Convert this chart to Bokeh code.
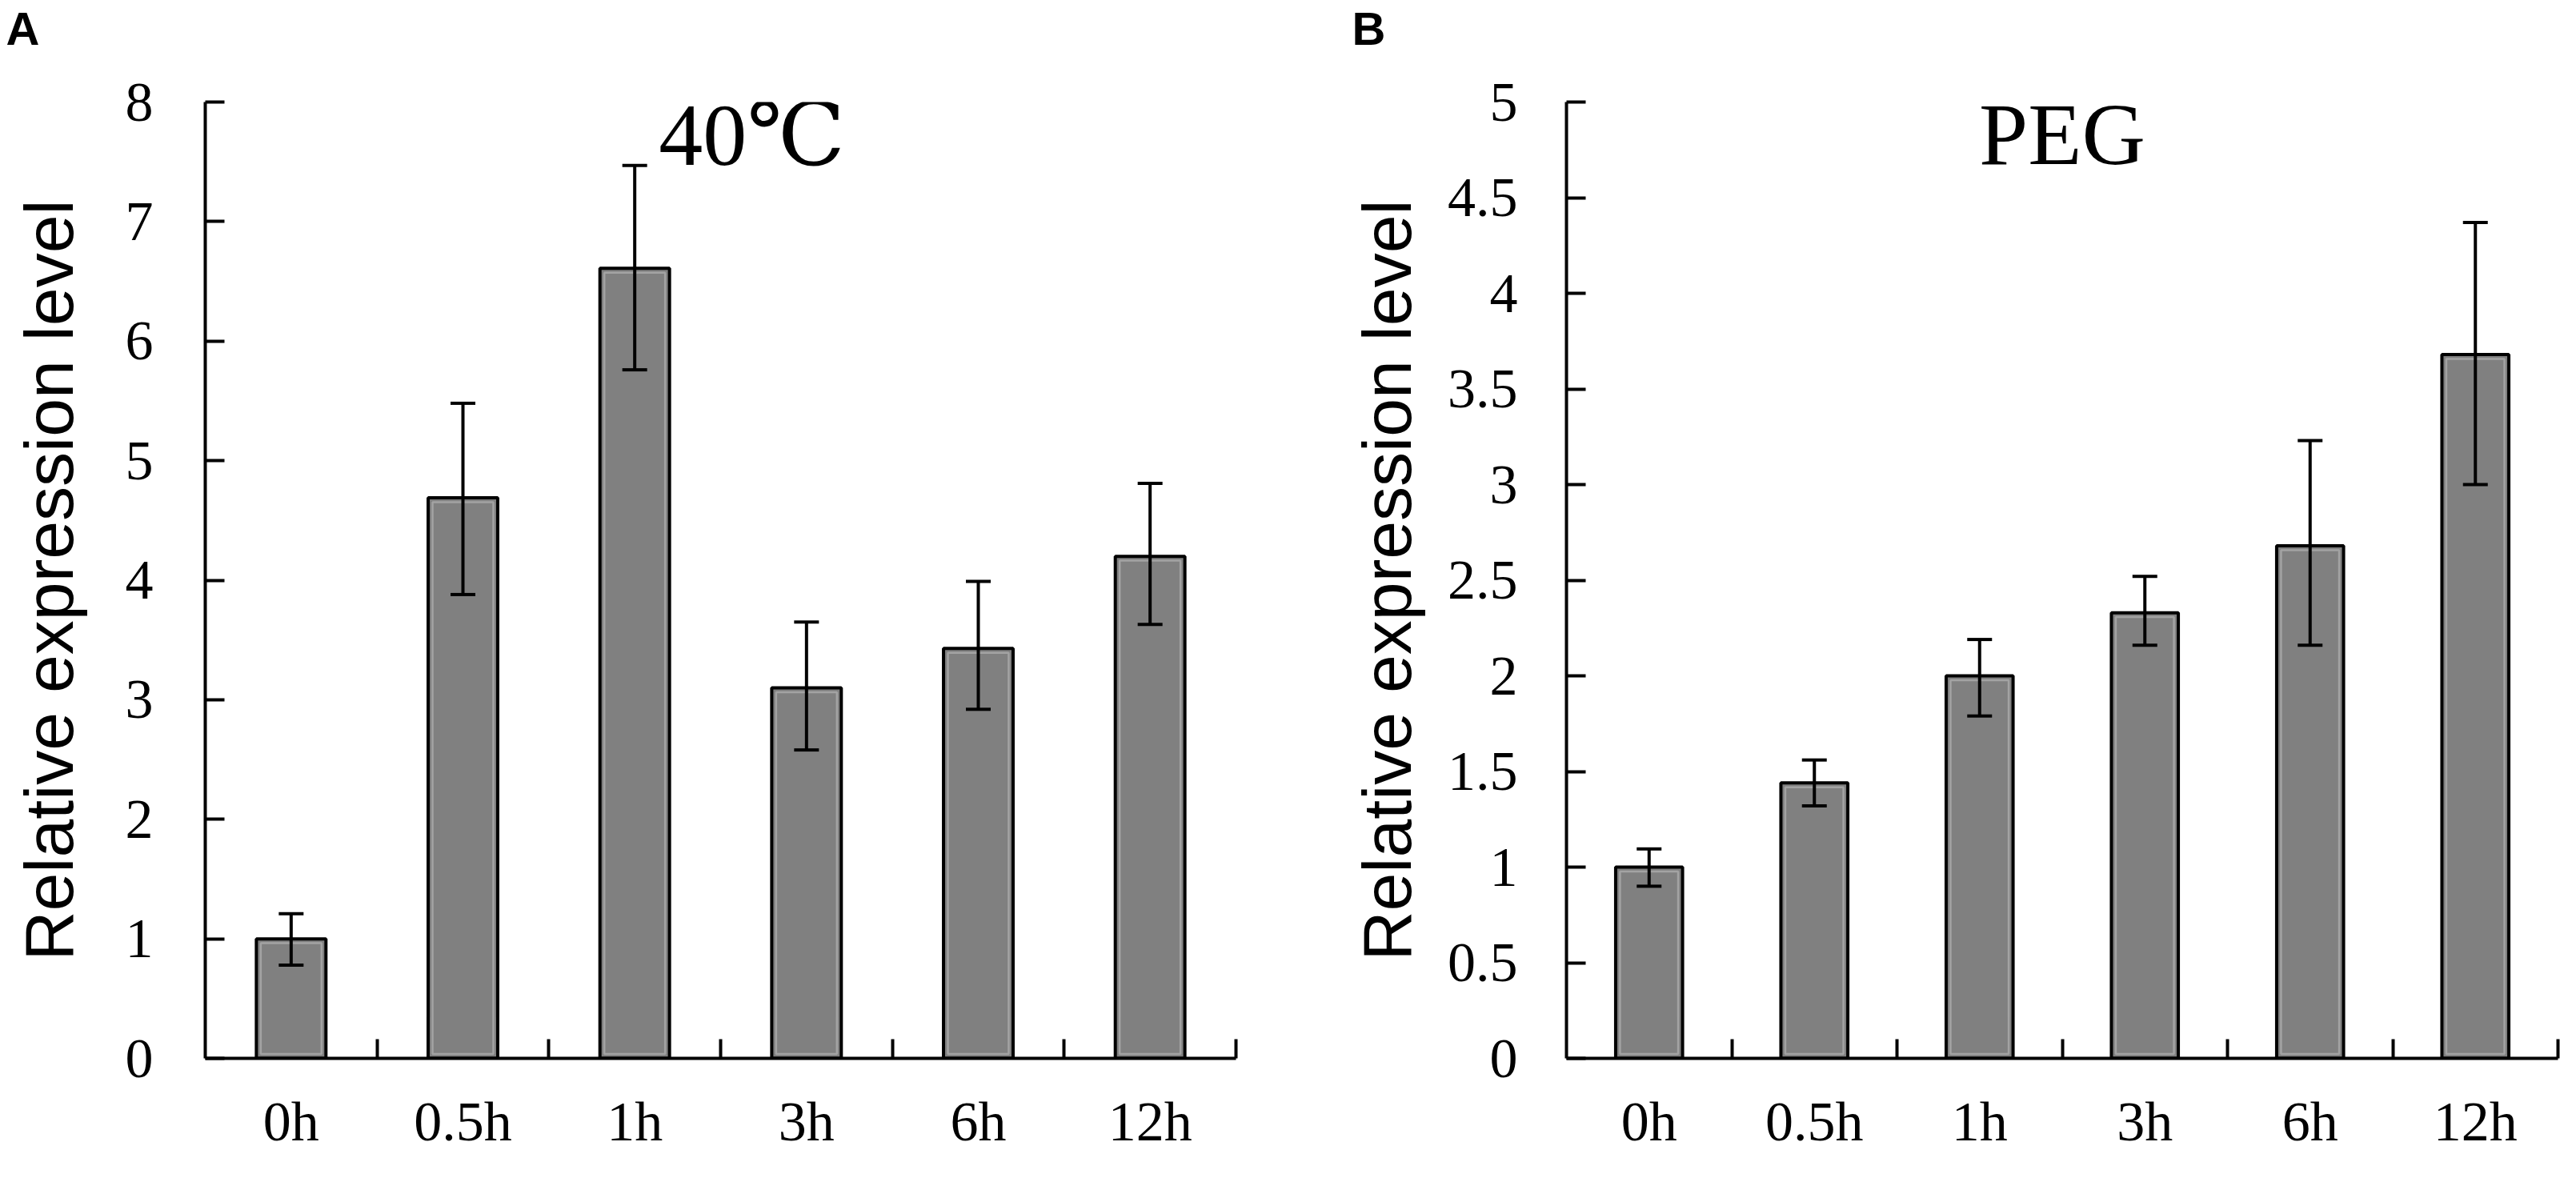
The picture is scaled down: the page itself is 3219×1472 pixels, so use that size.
from bokeh.plotting import figure
from bokeh.models import (ColumnDataSource, Range1d, LinearAxis, FixedTicker,
                          Whisker, TeeHead, Label)
from bokeh.layouts import row, column
from bokeh.embed import file_html
from bokeh.resources import INLINE

# ---------------- data ----------------
categories = ["0h", "0.5h", "1h", "3h", "6h", "12h"]

heat_mean = [1.00, 4.69, 6.61, 3.10, 3.43, 4.20]
heat_upper = [1.21, 5.48, 7.47, 3.65, 3.99, 4.81]
heat_lower = [0.78, 3.88, 5.76, 2.58, 2.92, 3.63]

peg_mean = [1.00, 1.44, 2.00, 2.33, 2.68, 3.68]
peg_upper = [1.095, 1.56, 2.19, 2.52, 3.23, 4.37]
peg_lower = [0.90, 1.32, 1.79, 2.16, 2.16, 3.00]

heat_yticks = [0, 1, 2, 3, 4, 5, 6, 7, 8]
heat_ylabels = ["0", "1", "2", "3", "4", "5", "6", "7", "8"]
peg_yticks = [0, 0.5, 1, 1.5, 2, 2.5, 3, 3.5, 4, 4.5, 5]
peg_ylabels = ["0", "0.5", "1", "1.5", "2", "2.5", "3", "3.5", "4", "4.5", "5"]

heat_title = "40℃"
peg_title = "PEG"
y_title = "Relative expression level"
panel_letters = ["A", "B"]

SERIF = "Liberation Serif, DejaVu Serif, serif"
SANS = "Liberation Sans, Arial, sans-serif"

HEADER_H = 70
BAR_W = 0.405


def make_panel(width, height, borders, ymax, yticks, ylabels, mean, lower, upper,
               title, title_x, title_y, title_align, tick_standoff, label_standoff):
    n = len(categories)
    centers = [i + 0.5 for i in range(n)]
    bounds = [i + 1 for i in range(n)]
    left, right, top, bottom = borders
    frame_w = width - left - right
    frame_h = height - top - bottom
    px_x = frame_w / n          # pixels per category
    px_y = frame_h / ymax       # pixels per value unit

    src = ColumnDataSource(dict(
        x=centers, mean=mean, lower=lower, upper=upper, cat=categories,
        inner_top=[m - 5.5 / px_y for m in mean],
    ))

    p = figure(width=width, height=height, x_range=Range1d(0, n),
               y_range=Range1d(0, ymax), x_axis_type=None, y_axis_type=None,
               output_backend="svg", toolbar_location=None, title_location=None,
               min_border_left=left, min_border_right=right,
               min_border_top=top, min_border_bottom=bottom)
    p.outline_line_color = None
    p.background_fill_color = "white"
    p.border_fill_color = "white"

    # y axis
    yax = LinearAxis(ticker=FixedTicker(ticks=yticks),
                     major_label_overrides={float(t): l for t, l in zip(yticks, ylabels)})
    yax.axis_line_width = 4
    yax.axis_line_color = "black"
    yax.major_tick_line_width = 4
    yax.major_tick_line_color = "black"
    yax.major_tick_in = 24
    yax.major_tick_out = 0
    yax.minor_tick_in = 0
    yax.minor_tick_out = 0
    yax.major_label_standoff = tick_standoff
    yax.major_label_text_font = SERIF
    yax.major_label_text_font_size = "70px"
    yax.major_label_text_color = "black"
    yax.axis_label = y_title
    yax.axis_label_text_font = SANS
    yax.axis_label_text_font_size = "86px"
    yax.axis_label_text_font_style = "normal"
    yax.axis_label_text_color = "black"
    yax.axis_label_standoff = label_standoff
    p.add_layout(yax, "left")

    # x axis: labels at category centres, tick marks at category boundaries
    xax = LinearAxis(ticker=FixedTicker(ticks=centers, minor_ticks=bounds),
                     major_label_overrides={float(c): s for c, s in zip(centers, categories)})
    xax.axis_line_width = 4
    xax.axis_line_color = "black"
    xax.major_tick_in = 0
    xax.major_tick_out = 0
    xax.major_tick_line_color = None
    xax.minor_tick_in = 24
    xax.minor_tick_out = 0
    xax.minor_tick_line_width = 4
    xax.minor_tick_line_color = "black"
    xax.major_label_standoff = 40
    xax.major_label_text_font = SERIF
    xax.major_label_text_font_size = "70px"
    xax.major_label_text_color = "black"
    p.add_layout(xax, "below")

    # bars
    p.vbar(x="x", top="mean", bottom=0, width=BAR_W, source=src,
           fill_color="#808080", line_color="black", line_width=4)
    # light inner rim of the bars
    p.vbar(x="x", top="inner_top", bottom=5.5 / px_y, width=BAR_W - 11 / px_x,
           source=src, fill_color=None, line_color="#a3a3a3", line_width=2.5)

    # error bars
    w = Whisker(base="x", upper="upper", lower="lower", source=src,
                line_color="black", line_width=4, level="overlay",
                upper_head=TeeHead(size=31, line_width=4, line_color="black"),
                lower_head=TeeHead(size=31, line_width=4, line_color="black"))
    p.add_layout(w)

    p.add_layout(Label(x=title_x, y=title_y, text=title, text_font=SERIF,
                       text_font_size="110px", text_color="black",
                       text_align=title_align, text_baseline="alphabetic"))
    return p


# header strip carrying the panel letters
header = figure(width=3201, height=HEADER_H, x_range=Range1d(0, 3201),
                y_range=Range1d(0, HEADER_H), x_axis_type=None, y_axis_type=None,
                output_backend="svg", toolbar_location=None, title_location=None,
                min_border_left=0, min_border_right=0, min_border_top=0,
                min_border_bottom=0)
header.outline_line_color = None
for letter, lx in zip(panel_letters, [7, 1689]):
    header.add_layout(Label(x=lx, y=HEADER_H / 2, text=letter, text_font=SANS,
                            text_font_size="58px", text_font_style="bold",
                            text_color="black", text_align="left",
                            text_baseline="middle"))

ph = 1454 - HEADER_H
p1 = make_panel(1600, ph, (256, 56, 126 - HEADER_H, 132), 8, heat_yticks, heat_ylabels,
                heat_mean, heat_lower, heat_upper,
                heat_title, 2.64, 7.72, "left", 65, 45)
p2 = make_panel(1601, ph, (357, 5, 127 - HEADER_H, 126), 5, peg_yticks, peg_ylabels,
                peg_mean, peg_lower, peg_upper,
                peg_title, 3.0, 4.83, "center", 61, 25)

layout = column(header, row(p1, p2))
open("out.html", "w").write(file_html(layout, INLINE))
